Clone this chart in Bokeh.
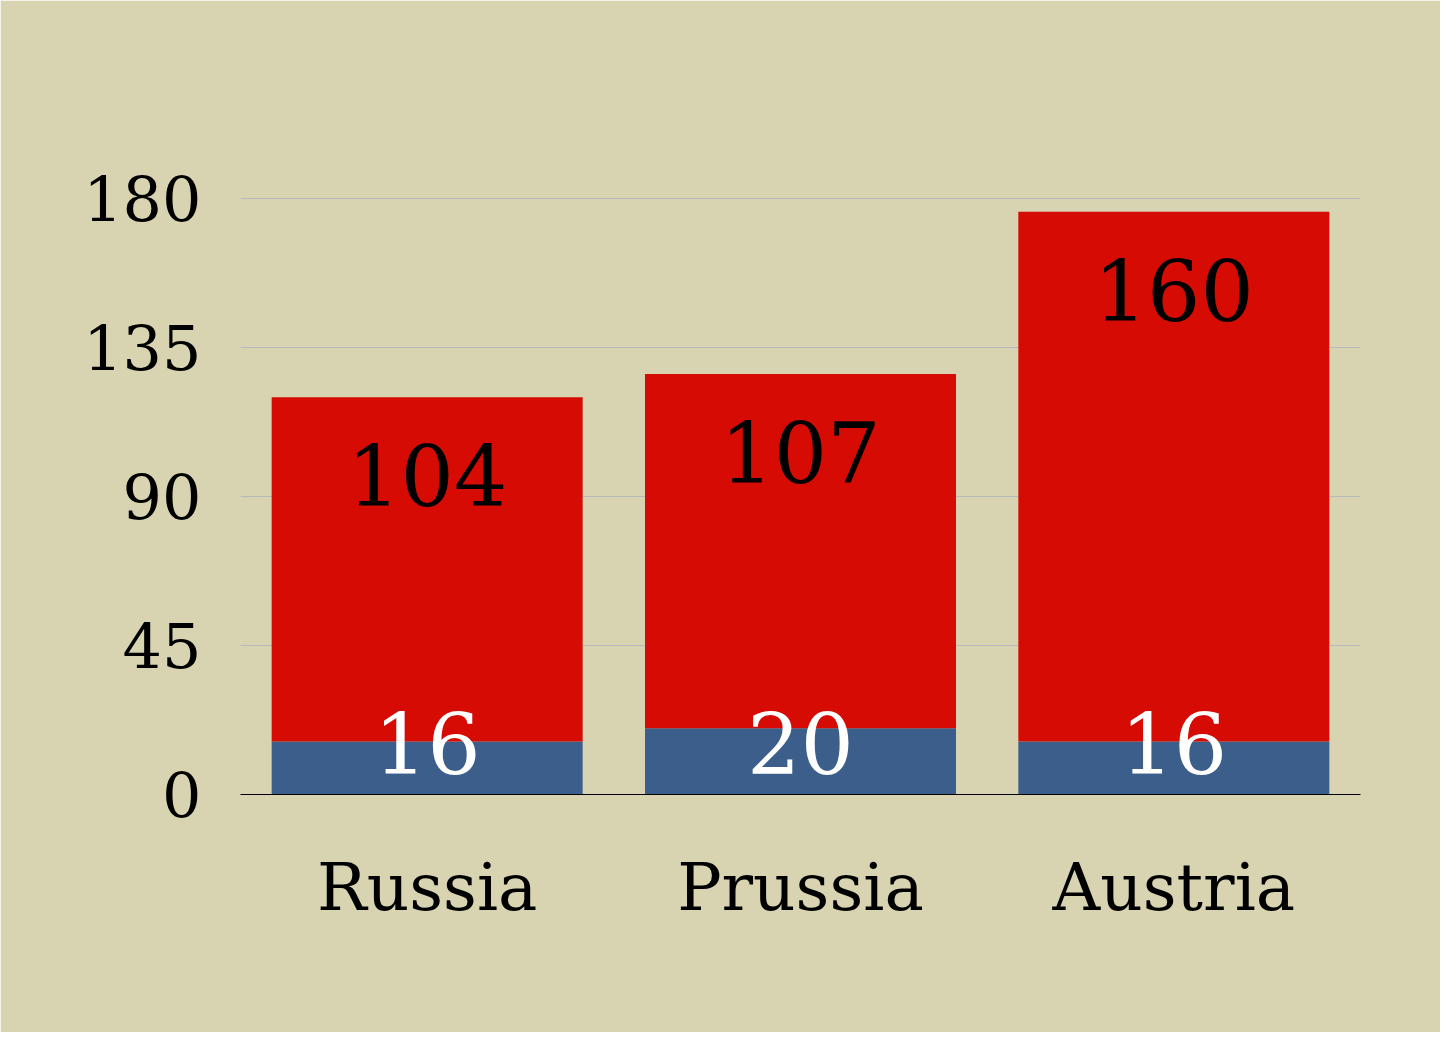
from bokeh.plotting import figure
from bokeh.models import ColumnDataSource, FactorRange, FixedTicker, Range1d
from bokeh.core.properties import value
from bokeh.embed import file_html
from bokeh.resources import INLINE

countries = ["Russia", "Prussia", "Austria"]
blue_vals = [16, 20, 16]
red_vals = [104, 107, 160]
y_ticks = [0, 45, 90, 135, 180]

BG = "#d8d3b1"
RED = "#d50b04"
BLUE = "#3b5e8a"
FONT = "DejaVu Serif"
PX_PER_UNIT = 596 / 180.0
TOP_PAD_PX = 17

totals = [b + r for b, r in zip(blue_vals, red_vals)]
src = ColumnDataSource(dict(
    x=countries,
    blue=blue_vals,
    red=red_vals,
    total=totals,
    blue_lbl=[str(v) for v in blue_vals],
    red_lbl=[str(v) for v in red_vals],
    red_y=[t - 78 / PX_PER_UNIT for t in totals],
    blue_y=[52 / PX_PER_UNIT for _ in blue_vals],
))

p = figure(
    x_range=FactorRange(*countries, range_padding=0),
    y_range=Range1d(0, y_ticks[-1] + TOP_PAD_PX / PX_PER_UNIT),
    width=1440, height=1032,
    min_border_left=240, min_border_right=80,
    min_border_top=198 - TOP_PAD_PX, min_border_bottom=238,
    output_backend="svg", toolbar_location=None,
)
p.background_fill_color = BG
p.border_fill_color = BG
p.outline_line_color = BG
p.outline_line_width = 2

p.vbar(x="x", bottom=0, top="blue", width=0.833, source=src,
       fill_color=BLUE, line_color=None)
p.vbar(x="x", bottom="blue", top="total", width=0.833, source=src,
       fill_color=RED, line_color=None)

p.text(x="x", y="red_y", text="red_lbl", source=src,
       text_font=value(FONT), text_font_size="84px", text_color="black",
       text_align="center", text_baseline="alphabetic")
p.text(x="x", y="blue_y", text="blue_lbl", source=src,
       text_font=value(FONT), text_font_size="84px", text_color="white",
       text_align="center", text_baseline="alphabetic")

p.yaxis.ticker = FixedTicker(ticks=y_ticks)
p.yaxis.axis_line_color = None
p.yaxis.major_tick_line_color = None
p.yaxis.minor_tick_line_color = None
p.yaxis.major_label_text_font = FONT
p.yaxis.major_label_text_font_size = "62px"
p.yaxis.major_label_text_color = "black"
p.yaxis.major_label_standoff = 33

p.xaxis.axis_line_color = "black"
p.xaxis.axis_line_width = 1
p.xaxis.major_tick_line_color = None
p.xaxis.major_tick_out = 0
p.xaxis.major_label_text_font = FONT
p.xaxis.major_label_text_font_size = "66px"
p.xaxis.major_label_text_color = "black"
p.xaxis.major_label_standoff = 54

p.xgrid.grid_line_color = None
p.ygrid.grid_line_color = "#b6bac0"
p.ygrid.grid_line_width = 1

open("out.html", "w").write(file_html(p, INLINE))
